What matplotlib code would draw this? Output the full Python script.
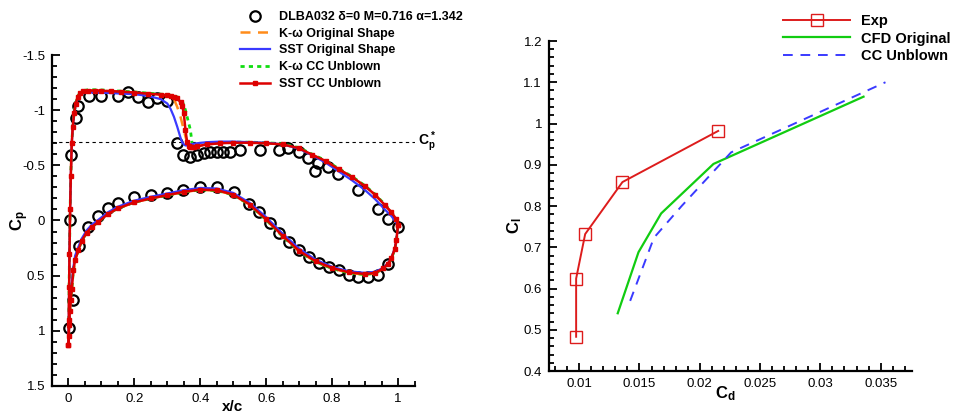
import numpy as np
import matplotlib
matplotlib.use('Agg')
import matplotlib.pyplot as plt
from matplotlib.ticker import MultipleLocator

plt.rcParams['font.family'] = ['Liberation Sans', 'DejaVu Sans']
plt.rcParams['mathtext.fontset'] = 'custom'
plt.rcParams['mathtext.rm'] = 'Liberation Sans'
plt.rcParams['mathtext.bf'] = 'Liberation Sans:bold'

# ---- left panel: pressure distribution ----
cp_star = -0.715

# experiment (DLBA032)
exp_up_x = [0.001, 0.006, 0.009, 0.022, 0.03, 0.062, 0.1, 0.15, 0.18, 0.21, 0.24, 0.269, 0.299,
            0.329, 0.349, 0.37, 0.39, 0.41, 0.43, 0.45, 0.47, 0.49, 0.519, 0.58, 0.638, 0.667,
            0.698, 0.728, 0.748, 0.758, 0.788, 0.819, 0.88, 0.94, 0.971, 1.001]
exp_up_cp = [0.977, 0.0, -0.594, -0.927, -1.04, -1.129, -1.129, -1.129, -1.165, -1.122, -1.077,
             -1.108, -1.086, -0.705, -0.594, -0.573, -0.594, -0.609, -0.624, -0.624, -0.624,
             -0.624, -0.639, -0.639, -0.639, -0.654, -0.624, -0.564, -0.452, -0.518, -0.488,
             -0.422, -0.277, -0.105, -0.015, 0.062]
exp_lo_x = [0.013, 0.031, 0.06, 0.089, 0.12, 0.15, 0.2, 0.25, 0.299, 0.349, 0.4, 0.45, 0.501,
            0.549, 0.579, 0.61, 0.639, 0.669, 0.699, 0.729, 0.76, 0.79, 0.82, 0.85, 0.88, 0.91,
            0.938, 0.969]
exp_lo_cp = [0.72, 0.231, 0.056, -0.041, -0.11, -0.156, -0.21, -0.231, -0.246, -0.277, -0.301,
             -0.306, -0.255, -0.15, -0.08, 0.02, 0.11, 0.192, 0.267, 0.328, 0.382, 0.424, 0.449,
             0.494, 0.515, 0.515, 0.494, 0.397]

# CFD upper surface
x_up = [0.0, 0.001, 0.002, 0.003, 0.005, 0.007, 0.01, 0.013, 0.017, 0.022, 0.028, 0.035, 0.045,
        0.06, 0.08, 0.1, 0.13, 0.16, 0.2, 0.24, 0.28, 0.3, 0.31, 0.32, 0.33, 0.34, 0.345, 0.35,
        0.355, 0.36, 0.365, 0.37, 0.375, 0.38, 0.39, 0.42, 0.46, 0.5, 0.55, 0.6, 0.65, 0.7, 0.74,
        0.78, 0.82, 0.86, 0.9, 0.93, 0.96, 0.98, 0.995, 1.0]
cp_up_sst_cc = [1.13, 0.9, 0.6, 0.3, -0.1, -0.4, -0.7, -0.85, -0.97, -1.06, -1.12, -1.155, -1.17,
                -1.178, -1.178, -1.176, -1.172, -1.168, -1.16, -1.15, -1.14, -1.135, -1.13, -1.12,
                -1.11, -1.07, -1.04, -0.97, -0.82, -0.71, -0.675, -0.665, -0.665, -0.668, -0.672,
                -0.69, -0.70, -0.705, -0.705, -0.70, -0.69, -0.655, -0.595, -0.54, -0.465, -0.395,
                -0.31, -0.235, -0.14, -0.075, -0.01, 0.04]
cp_up_kw_orig = [1.13, 0.9, 0.6, 0.3, -0.1, -0.4, -0.7, -0.85, -0.97, -1.06, -1.12, -1.155, -1.17,
                 -1.178, -1.178, -1.176, -1.172, -1.168, -1.16, -1.15, -1.14, -1.135, -1.125, -1.10,
                 -1.03, -0.94, -0.88, -0.82, -0.76, -0.71, -0.68, -0.67, -0.668, -0.668, -0.672,
                 -0.69, -0.70, -0.705, -0.705, -0.70, -0.69, -0.655, -0.595, -0.54, -0.465, -0.395,
                 -0.31, -0.235, -0.14, -0.075, -0.01, 0.04]
cp_up_sst_orig = [1.13, 0.9, 0.6, 0.3, -0.1, -0.4, -0.7, -0.85, -0.96, -1.05, -1.11, -1.14, -1.155,
                  -1.16, -1.16, -1.158, -1.155, -1.15, -1.145, -1.13, -1.10, -1.06, -1.01, -0.94,
                  -0.85, -0.75, -0.71, -0.69, -0.68, -0.68, -0.685, -0.69, -0.693, -0.695, -0.70,
                  -0.71, -0.715, -0.715, -0.71, -0.705, -0.69, -0.65, -0.59, -0.525, -0.445, -0.365,
                  -0.275, -0.195, -0.10, -0.04, 0.02, 0.05]
cp_up_kw_cc = [1.13, 0.9, 0.6, 0.3, -0.1, -0.4, -0.7, -0.85, -0.97, -1.065, -1.125, -1.16, -1.178,
               -1.185, -1.185, -1.183, -1.178, -1.172, -1.165, -1.155, -1.145, -1.14, -1.135, -1.13,
               -1.12, -1.108, -1.08, -1.047, -1.0, -0.94, -0.88, -0.82, -0.70, -0.67, -0.67,
               -0.695, -0.705, -0.71, -0.71, -0.705, -0.695, -0.66, -0.60, -0.545, -0.47, -0.40,
               -0.315, -0.24, -0.145, -0.08, -0.01, 0.04]

# CFD lower surface
x_lo = [0.0, 0.001, 0.002, 0.004, 0.007, 0.01, 0.015, 0.02, 0.03, 0.04, 0.055, 0.07, 0.09, 0.12,
        0.15, 0.2, 0.25, 0.3, 0.35, 0.4, 0.45, 0.5, 0.55, 0.6, 0.65, 0.7, 0.75, 0.8, 0.85, 0.9,
        0.93, 0.955, 0.97, 0.98, 0.99, 0.995, 1.0]
cp_lo_sst_cc = [1.13, 1.05, 0.95, 0.82, 0.72, 0.62, 0.45, 0.36, 0.27, 0.185, 0.11, 0.06, 0.015,
                -0.06, -0.11, -0.165, -0.2, -0.23, -0.26, -0.28, -0.275, -0.235, -0.145, -0.01,
                0.14, 0.275, 0.37, 0.43, 0.47, 0.485, 0.475, 0.435, 0.39, 0.34, 0.26, 0.18, 0.04]
cp_lo_kw = [1.13, 1.05, 0.95, 0.82, 0.72, 0.62, 0.45, 0.36, 0.27, 0.185, 0.11, 0.06, 0.015,
            -0.06, -0.11, -0.165, -0.2, -0.228, -0.258, -0.278, -0.272, -0.232, -0.142, -0.005,
            0.145, 0.28, 0.375, 0.435, 0.475, 0.49, 0.48, 0.44, 0.395, 0.345, 0.265, 0.185, 0.04]
cp_lo_sst_orig = [1.13, 1.05, 0.95, 0.8, 0.68, 0.57, 0.42, 0.32, 0.24, 0.165, 0.09, 0.04, -0.005,
                  -0.075, -0.125, -0.18, -0.215, -0.245, -0.275, -0.295, -0.29, -0.25, -0.16,
                  -0.03, 0.12, 0.255, 0.355, 0.42, 0.46, 0.475, 0.465, 0.43, 0.385, 0.335, 0.255,
                  0.175, 0.05]

# ---- right panel: drag polar ----
cd_exp = [0.00975, 0.00975, 0.0105, 0.01359, 0.02153]
cl_exp = [0.483, 0.624, 0.732, 0.858, 0.982]
cd_cfd_orig = [0.0132, 0.01492, 0.0168, 0.02114, 0.03358]
cl_cfd_orig = [0.540, 0.688, 0.782, 0.902, 1.065]
cd_cc_unblown = [0.01423, 0.0162, 0.0185, 0.0226, 0.0354]
cl_cc_unblown = [0.570, 0.723, 0.80, 0.93, 1.10]

fig = plt.figure(figsize=(9.55, 4.15), dpi=100)
ax1 = fig.add_axes([52/955, 1-386/415, (414.5-52)/955, 331/415])
ax2 = fig.add_axes([549/955, 1-371/415, (912-549)/955, 330/415])

orange = '#ff8c1a'
blue = '#3a3aff'
green = '#11dd11'
red = '#dd0000'

ax1.axhline(cp_star, color='black', ls=(0, (3, 3)), lw=0.8)
ax1.plot(exp_up_x + exp_lo_x, exp_up_cp + exp_lo_cp, ls='none', marker='o', ms=7.5,
         mfc='none', mec='black', mew=1.6, label='DLBA032 δ=0 M=0.716 α=1.342')
ax1.plot(x_up, cp_up_kw_orig, color=orange, ls=(0, (4, 3)), lw=1.8, label='K-ω Original Shape')
ax1.plot(x_lo, cp_lo_kw, color=orange, ls=(0, (4, 3)), lw=1.8)
ax1.plot(x_up, cp_up_kw_cc, color=green, ls=(0, (1.5, 1.5)), lw=2.0, label='K-ω CC Unblown')
ax1.plot(x_lo, cp_lo_kw, color=green, ls=(0, (1.5, 1.5)), lw=2.0)
ax1.plot(x_up, cp_up_sst_orig, color=blue, lw=1.6, label='SST Original Shape')
ax1.plot(x_lo, cp_lo_sst_orig, color=blue, lw=1.6)
ax1.plot(x_up, cp_up_sst_cc, color=red, lw=1.8, marker='s', ms=3, label='SST CC Unblown')
ax1.plot(x_lo, cp_lo_sst_cc, color=red, lw=1.8, marker='s', ms=3)

ax1.set_xlim(-0.05, 1.05)
ax1.set_ylim(1.5, -1.5)
ax1.xaxis.set_minor_locator(MultipleLocator(0.05))
ax1.yaxis.set_minor_locator(MultipleLocator(0.1))
ax1.set_xticks([0, 0.2, 0.4, 0.6, 0.8, 1.0])
ax1.set_xticklabels(['0', '0.2', '0.4', '0.6', '0.8', '1'])
ax1.set_yticks([-1.5, -1, -0.5, 0, 0.5, 1, 1.5])
ax1.set_yticklabels(['-1.5', '-1', '-0.5', '0', '0.5', '1', '1.5'])
ax1.text(1.06, cp_star, r'$\mathbf{C_p^*}$', fontsize=10, va='center', ha='left')
ax1.set_xlabel('x/c', fontsize=11, fontweight='bold')
ax1.set_ylabel(r'$\mathbf{C_p}$', fontsize=12)
ax1.xaxis.set_label_coords(0.497, -0.042)
ax1.yaxis.set_label_coords(-0.058, 0.5)

h, l = ax1.get_legend_handles_labels()
order = [0, 1, 3, 2, 4]
ax1.legend([h[i] for i in order], [l[i] for i in order], loc='upper left',
           bbox_to_anchor=(240/955, 1-11/415), bbox_transform=fig.transFigure,
           frameon=False, prop={'weight': 'bold', 'size': 9}, handlelength=2.4,
           handletextpad=0.7, labelspacing=0.38, borderpad=0, borderaxespad=0,
           numpoints=1)

ax2.plot(cd_exp, cl_exp, color='#dd1c1c', lw=1.4, marker='s', ms=8, mfc='none', mew=1.0,
         label='Exp')
ax2.plot(cd_cfd_orig, cl_cfd_orig, color='#11cc11', lw=1.6, label='CFD Original')
ax2.plot(cd_cc_unblown, cl_cc_unblown, color='#3a3aff', lw=1.4, ls=(0, (5, 4)), label='CC Unblown')
ax2.set_xlim(0.0075, 0.0376)
ax2.set_ylim(0.4, 1.2)
ax2.xaxis.set_minor_locator(MultipleLocator(0.001))
ax2.yaxis.set_minor_locator(MultipleLocator(0.02))
ax2.set_xticks([0.01, 0.015, 0.02, 0.025, 0.03, 0.035])
ax2.set_xticklabels(['0.01', '0.015', '0.02', '0.025', '0.03', '0.035'])
ax2.set_yticks([0.4, 0.5, 0.6, 0.7, 0.8, 0.9, 1.0, 1.1, 1.2])
ax2.set_yticklabels(['0.4', '0.5', '0.6', '0.7', '0.8', '0.9', '1', '1.1', '1.2'])
ax2.set_xlabel(r'$\mathbf{C_d}$', fontsize=12)
ax2.set_ylabel(r'$\mathbf{C_l}$', fontsize=12)
ax2.xaxis.set_label_coords(0.485, -0.04)
ax2.yaxis.set_label_coords(-0.07, 0.44)
ax2.legend(loc='upper left', bbox_to_anchor=(783/955, 1-14/415), bbox_transform=fig.transFigure,
           frameon=False, prop={'weight': 'bold', 'size': 10.5}, handlelength=4.6,
           handletextpad=0.75, labelspacing=0.24, borderpad=0, borderaxespad=0, numpoints=1)

for ax in (ax1, ax2):
    ax.spines['top'].set_visible(False)
    ax.spines['right'].set_visible(False)
    ax.spines['left'].set_linewidth(1.6)
    ax.spines['bottom'].set_linewidth(1.6)
    ax.tick_params(which='both', direction='in', labelsize=9.5, width=1.3, pad=5)
    ax.tick_params(which='major', length=6)
    ax.tick_params(which='minor', length=3.5)
    ax.set_facecolor('none')

fig.savefig('out.png', dpi=100)
